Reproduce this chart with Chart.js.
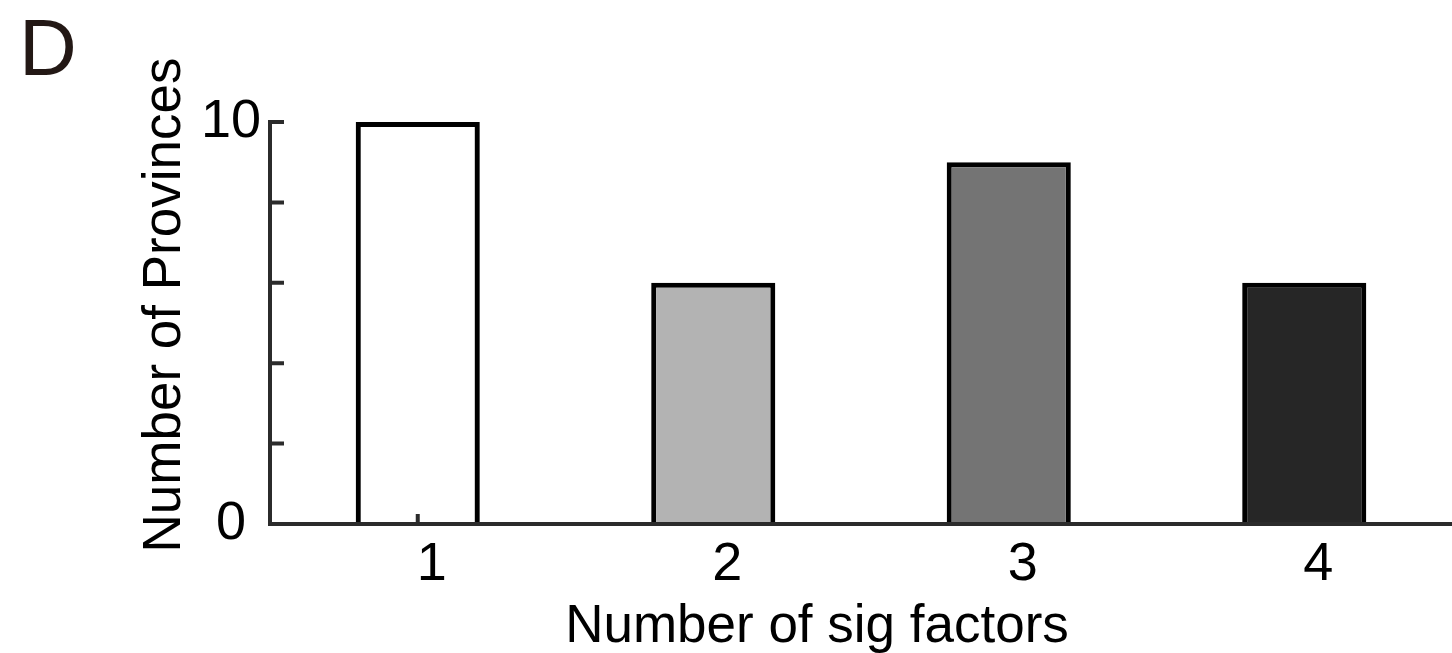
<!DOCTYPE html>
<html>
<head>
<meta charset="utf-8">
<script src="https://cdn.jsdelivr.net/npm/chart.js@4.4.0/dist/chart.umd.min.js"></script>
<style>
body { margin: 0; background: #fff; }
</style>
</head>
<body>
<canvas id="myChart" width="1452" height="653"></canvas>
<script>
const factorLabels = ['1', '2', '3', '4']
const provinceCounts = [10, 6, 9, 6]
const barColors = ['rgba(0,0,0,0)', '#b3b3b3', '#747474', '#262626']
const yTickLabels = [0, 10]

const panelLetter = 'D'
const xTitle = 'Number of sig factors'
const yTitle = 'Number of Provinces'

const axisColor = '#2b2b2b'
const fontFamily = '"Liberation Sans", Arial, sans-serif'

// short tick marks pointing into the plot, drawn under the bars
const innerTicks = {
    id: 'innerTicks',
    beforeDatasetsDraw(chart) {
        const { ctx, scales: { x, y } } = chart
        ctx.save()
        ctx.strokeStyle = axisColor
        ctx.lineWidth = 4
        ctx.beginPath()
        factorLabels.forEach((label, i) => {
            const px = x.getPixelForValue(i)
            ctx.moveTo(px, y.bottom)
            ctx.lineTo(px, y.bottom - 10)
        })
        y.ticks.forEach((t) => {
            if (t.value === 0) return
            const py = y.getPixelForValue(t.value)
            ctx.moveTo(x.left, py)
            ctx.lineTo(x.left + 14, py)
        })
        ctx.stroke()
        ctx.restore()
    },
    // panel letter and axis titles
    afterDraw(chart) {
        const { ctx } = chart
        ctx.save()
        ctx.fillStyle = '#231815'
        ctx.font = '80px ' + fontFamily
        ctx.textAlign = 'left'
        ctx.textBaseline = 'alphabetic'
        ctx.fillText(panelLetter, 19, 75)

        ctx.fillStyle = '#000'
        ctx.font = '53px ' + fontFamily
        ctx.textAlign = 'center'
        ctx.fillText(xTitle, 817, 642)

        ctx.translate(180, 305)
        ctx.rotate(-Math.PI / 2)
        ctx.fillText(yTitle, 0, 0)
        ctx.restore()
    },
}

const ctx = document.getElementById('myChart').getContext('2d')
new Chart(ctx, {
    type: 'bar',
    data: {
        labels: factorLabels,
        datasets: [
            {
                data: provinceCounts,
                backgroundColor: barColors,
                borderColor: '#000',
                borderWidth: 5,
                borderSkipped: 'start',
                barPercentage: 0.42,
                categoryPercentage: 1,
            },
        ],
    },
    options: {
        responsive: false,
        animation: false,
        layout: {
            padding: { top: 122, right: 0, bottom: 0, left: 0 },
        },
        plugins: {
            legend: { display: false },
            tooltip: { enabled: false },
        },
        scales: {
            x: {
                offset: true,
                grid: { display: false, drawTicks: false },
                border: { display: true, color: axisColor, width: 4, z: 1 },
                ticks: {
                    color: '#000',
                    padding: 9,
                    labelOffset: 14,
                    font: { family: fontFamily, size: 54 },
                },
                afterFit(scale) {
                    scale.height = 129
                },
            },
            y: {
                min: 0,
                max: 10,
                grid: { display: false, drawTicks: false },
                border: { display: true, color: axisColor, width: 4 },
                ticks: {
                    stepSize: 2,
                    color: '#000',
                    padding: 9,
                    crossAlign: 'center',
                    font: { family: fontFamily, size: 54 },
                    callback: (value) => (yTickLabels.includes(value) ? value : ''),
                },
                afterFit(scale) {
                    scale.width = 270
                },
            },
        },
    },
    plugins: [innerTicks],
})
</script>
</body>
</html>
